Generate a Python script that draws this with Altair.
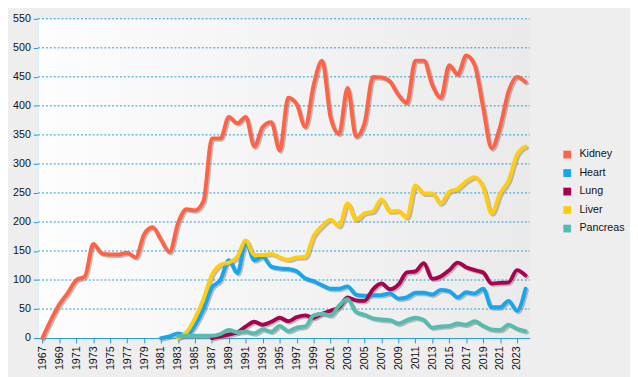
import altair as alt
import pandas as pd

years = list(range(1967, 2025))
organs = ["Kidney", "Heart", "Lung", "Liver", "Pancreas"]
colors = ["#ff6347", "#17a6ee", "#aa0050", "#ffcc11", "#57bcb0"]
y_ticks = list(range(0, 551, 50))

kidney = [0, 31, 58, 78, 100, 106, 162, 146, 144, 144,
          147, 139, 179, 191, 169, 148, 198, 222, 220, 236,
          344, 344, 381, 370, 381, 330, 364, 372, 323, 414,
          403, 364, 436, 478, 380, 352, 431, 347, 370, 450,
          449, 442, 419, 405, 478, 478, 436, 414, 470, 454,
          487, 470, 397, 327, 364, 425, 450, 441]
heart_start = 1981
heart = [0, 3, 8, 5, 22, 50, 87, 100, 134, 112,
         165, 134, 140, 123, 120, 119, 115, 103, 98, 91,
         85, 85, 89, 75, 73, 74, 74, 77, 68, 70,
         78, 78, 75, 83, 81, 70, 79, 77, 85, 53,
         53, 64, 47, 85]
lung_start = 1987
lung = [0, 3, 6, 10, 20, 28, 23, 28, 35, 29,
        36, 39, 35, 42, 47, 53, 70, 65, 64, 84,
        94, 84, 92, 113, 115, 129, 102, 106, 117, 130,
        122, 117, 113, 94, 95, 96, 117, 108]
liver_start = 1983
liver = [0, 10, 34, 67, 109, 126, 130, 140, 168, 143,
         143, 145, 139, 135, 139, 140, 176, 193, 204, 193,
         232, 204, 215, 218, 239, 218, 219, 208, 263, 249,
         249, 232, 252, 257, 270, 277, 260, 215, 249, 271,
         316, 330]
pancreas_start = 1983
pancreas = [3, 4, 4, 4, 4, 7, 14, 10, 11, 8,
            15, 11, 21, 12, 18, 20, 39, 42, 39, 56,
            67, 45, 40, 34, 32, 31, 25, 31, 35, 31,
            18, 20, 21, 25, 23, 29, 21, 15, 14, 23,
            16, 12]

series = [
    ("Kidney", 1967, kidney),
    ("Heart", heart_start, heart),
    ("Lung", lung_start, lung),
    ("Liver", liver_start, liver),
    ("Pancreas", pancreas_start, pancreas),
]
rows = []
for name, start, vals in series:
    for i, v in enumerate(vals):
        rows.append({"Year": start + i, "Organ": name, "Count": v})
df = pd.DataFrame(rows)

tick_years = [y for y in years if y % 2 == 1]
blue = "#1a9ad8"
font = "Liberation Sans"

x_scale = alt.Scale(domain=[1966.5, 2024.5], nice=False, zero=False)
x_axis = alt.Axis(values=tick_years, format="d", labelAngle=270,
                  title=None, grid=False, domainColor=blue,
                  tickColor=blue, tickSize=5, labelPadding=3,
                  labelAlign="right", labelBaseline="middle")
y_scale = alt.Scale(domain=[0, 550], nice=False)
y_axis = alt.Axis(values=y_ticks, title=None, grid=False,
                  domainColor=blue, tickColor=blue,
                  tickSize=5, labelPadding=3)
x = alt.X("Year:Q", scale=x_scale, axis=x_axis)
y = alt.Y("Count:Q", scale=y_scale, axis=y_axis)

gradient = alt.LinearGradient(
    gradient="linear", x1=0, y1=0, x2=1, y2=0,
    stops=[alt.GradientStop(color="#fdfdfd", offset=0),
           alt.GradientStop(color="#eaeaea", offset=1)])

bg = alt.Chart(pd.DataFrame({"a": [0]})).mark_rect(color=gradient).encode(
    x=alt.value(0), x2=alt.value("width"),
    y=alt.value(0), y2=alt.value("height"))

grid = alt.Chart(pd.DataFrame({"v": y_ticks[1:]})).mark_rule(
    color=blue, strokeDash=[2, 2], strokeWidth=1
).encode(
    y=alt.Y("v:Q", scale=y_scale, axis=y_axis),
    x=alt.value(0), x2=alt.value("width"))

shadow = alt.Chart(df).mark_line(
    interpolate="monotone", strokeWidth=4, color="#888888",
    opacity=0.55, xOffset=1.5, yOffset=1.5, strokeCap="round"
).encode(x=x, y=y, detail="Organ:N", order="Year:Q")

lines = alt.Chart(df).mark_line(
    interpolate="monotone", strokeWidth=4, strokeCap="round"
).encode(
    x=x, y=y,
    color=alt.Color("Organ:N",
                    scale=alt.Scale(domain=organs, range=colors),
                    sort=organs,
                    legend=alt.Legend(title=None, orient="none",
                                      legendX=538, legendY=134,
                                      symbolType="square", symbolSize=16,
                                      symbolStrokeWidth=4,
                                      rowPadding=-2, labelOffset=7,
                                      padding=0)),
    order="Year:Q",
)

chart = alt.layer(bg, grid, shadow, lines).properties(
    width=505, height=328,
    background="#eeeeee",
    padding={"left": 4, "top": 0, "right": 5, "bottom": 5},
).configure_view(
    stroke=None,
).configure_axis(
    labelFont=font, labelFontSize=11, labelColor="#111111",
    domainWidth=1, tickWidth=1,
).configure_legend(
    labelFont=font, labelFontSize=11, labelColor="#111111",
)

chart.save("out.html", embed_options={"renderer": "svg", "actions": False})
